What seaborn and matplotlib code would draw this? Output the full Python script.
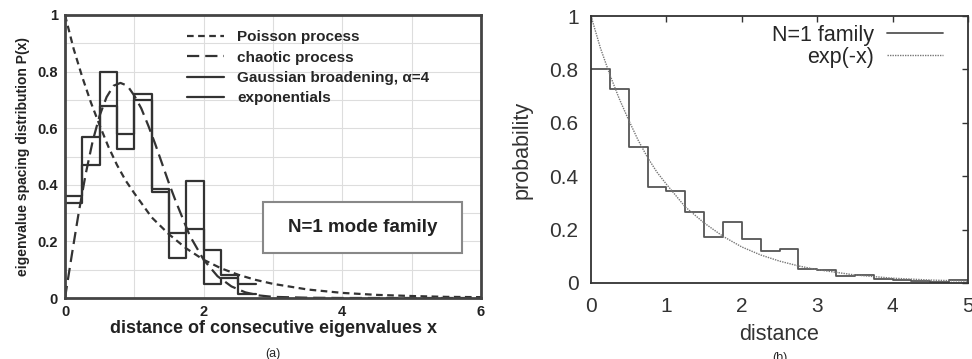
import numpy as np
import pandas as pd
import matplotlib
matplotlib.use("Agg")
import matplotlib.pyplot as plt
from matplotlib.patches import Rectangle
import seaborn as sns

# ---- data ----
# panel (a): bins of width 0.25
bin_edges_a = [0, 0.25, 0.5, 0.75, 1.0, 1.25, 1.5, 1.75, 2.0, 2.25, 2.5, 2.75]
gauss_vals = [0.36, 0.57, 0.80, 0.58, 0.72, 0.385, 0.23, 0.415, 0.17, 0.08, 0.05]
expo_vals = [0.335, 0.47, 0.68, 0.525, 0.70, 0.375, 0.14, 0.245, 0.05, 0.07, 0.015]

poisson_x = [0, 0.125, 0.25, 0.375, 0.5, 0.625, 0.75, 0.875, 1.0, 1.25, 1.5, 1.75, 2.0, 2.25, 2.5, 2.75, 3.0, 3.5, 4.0, 4.5, 5.0, 5.5, 6.0]
poisson_y = [1.0, 0.88, 0.78, 0.69, 0.61, 0.535, 0.47, 0.415, 0.37, 0.285, 0.225, 0.175, 0.135, 0.105, 0.082, 0.064, 0.05, 0.03, 0.018, 0.011, 0.007, 0.004, 0.003]

chaotic_x = [0, 0.1, 0.2, 0.3, 0.4, 0.5, 0.6, 0.7, 0.8, 0.9, 1.0, 1.1, 1.2, 1.3, 1.4, 1.5, 1.6, 1.8, 2.0, 2.2, 2.4, 2.6, 2.8, 3.0, 3.5, 4.0, 6.0]
chaotic_y = [0, 0.155, 0.305, 0.44, 0.555, 0.645, 0.71, 0.75, 0.76, 0.75, 0.715, 0.67, 0.61, 0.545, 0.475, 0.405, 0.34, 0.22, 0.135, 0.077, 0.041, 0.02, 0.009, 0.004, 0.001, 0, 0]

# panel (b)
bin_edges_b = [0, 0.25, 0.5, 0.75, 1.0, 1.25, 1.5, 1.75, 2.0, 2.25, 2.5, 2.75, 3.0, 3.25, 3.5, 3.75, 4.0, 4.25, 4.5, 4.75, 5.0]
family_vals = [0.80, 0.725, 0.51, 0.36, 0.345, 0.265, 0.172, 0.227, 0.166, 0.12, 0.129, 0.054, 0.047, 0.025, 0.029, 0.016, 0.01, 0.006, 0.004, 0.012]

expx_x = [0, 0.125, 0.25, 0.375, 0.5, 0.625, 0.75, 0.875, 1.0, 1.25, 1.5, 1.75, 2.0, 2.25, 2.5, 2.75, 3.0, 3.5, 4.0, 4.5, 5.0]
expx_y = [1.0, 0.88, 0.78, 0.69, 0.61, 0.535, 0.47, 0.415, 0.37, 0.285, 0.225, 0.175, 0.135, 0.105, 0.082, 0.064, 0.05, 0.03, 0.018, 0.011, 0.007]

sns.set_theme(style="white")
plt.rcParams["font.family"] = ["Liberation Sans", "DejaVu Sans"]

fig = plt.figure(figsize=(9.72, 3.59), dpi=100)
ax1 = fig.add_axes([65 / 972, 1 - 298 / 359, 416 / 972, 283 / 359])
ax2 = fig.add_axes([591 / 972, 1 - 283 / 359, 377 / 972, 267 / 359])

dark = "#333333"

def centers(edges):
    return [(edges[i] + edges[i + 1]) / 2 for i in range(len(edges) - 1)]

# ---------- panel (a) ----------
sns.lineplot(x=poisson_x, y=poisson_y, ax=ax1, color=dark, lw=1.6,
             linestyle=(0, (3, 2)), label="Poisson process")
sns.lineplot(x=chaotic_x, y=chaotic_y, ax=ax1, color=dark, lw=1.6,
             linestyle=(0, (5.5, 2.7)), label="chaotic process")
sns.histplot(x=centers(bin_edges_a), weights=gauss_vals, bins=bin_edges_a, element="step",
             fill=False, ax=ax1, color=dark, lw=1.6, label="Gaussian broadening, α=4")
sns.histplot(x=centers(bin_edges_a), weights=expo_vals, bins=bin_edges_a, element="step",
             fill=False, ax=ax1, color=dark, lw=1.6, label="exponentials")

ax1.set_xlim(0, 6)
ax1.set_ylim(0, 1)
ax1.set_xticks([0, 2, 4, 6])
ax1.set_xticklabels(["0", "2", "4", "6"])
ax1.set_yticks([0, 0.2, 0.4, 0.6, 0.8, 1])
ax1.set_yticklabels(["0", "0.2", "0.4", "0.6", "0.8", "1"])
ax1.set_xticks(np.arange(0, 6.01, 1), minor=True)
ax1.set_yticks(np.arange(0, 1.01, 0.1), minor=True)
ax1.grid(which="both", color="#dddddd", lw=0.8)
ax1.tick_params(axis="both", which="both", length=0, labelsize=10.5, pad=5, colors="#222222")
for lab in ax1.get_xticklabels() + ax1.get_yticklabels():
    lab.set_fontweight("bold")
for sp in ax1.spines.values():
    sp.set_color("#444444")
    sp.set_linewidth(2)
ax1.set_xlabel("distance of consecutive eigenvalues x", fontsize=13, fontweight="bold",
               color="#222222", labelpad=1)
ax1.set_ylabel("eigenvalue spacing distribution P(x)", fontsize=10, fontweight="bold",
               color="#222222", labelpad=5)
ax1.text(0.5, -0.175, "(a)", transform=ax1.transAxes, ha="center", va="top", fontsize=9)

ax1.legend(loc="upper left", bbox_to_anchor=(0.26, 0.995), frameon=False,
           prop={"weight": "bold", "size": 11}, handlelength=2.4,
           labelspacing=0.42, handletextpad=0.9)

ax1.add_patch(Rectangle((2.86, 0.16), 2.87, 0.18, fc="white", ec="#888888", lw=1.5, zorder=3))
ax1.text(4.29, 0.25, "N=1 mode family", ha="center", va="center", fontsize=13.5,
         fontweight="bold", color="#222222", zorder=4)

# ---------- panel (b) ----------
sns.histplot(x=centers(bin_edges_b), weights=family_vals, bins=bin_edges_b, element="step",
             fill=False, ax=ax2, color="#555555", lw=1.3, label="N=1 family")
sns.lineplot(x=expx_x, y=expx_y, ax=ax2, color="#777777", lw=1.0,
             linestyle=(0, (1, 0.8)), label="exp(-x)")
ax2.set_xlim(0, 5)
ax2.set_ylim(0, 1)
ax2.set_xticks([0, 1, 2, 3, 4, 5])
ax2.set_xticklabels(["0", "1", "2", "3", "4", "5"])
ax2.set_yticks([0, 0.2, 0.4, 0.6, 0.8, 1])
ax2.set_yticklabels(["0", "0.2", "0.4", "0.6", "0.8", "1"])
ax2.tick_params(axis="both", direction="in", length=4, width=1, labelsize=15, pad=9,
                top=True, right=True, colors="#333333")
ax2.tick_params(axis="x", pad=10)
for sp in ax2.spines.values():
    sp.set_color("#333333")
    sp.set_linewidth(1.3)
ax2.set_xlabel("distance", fontsize=15.5, color="#333333", labelpad=6)
ax2.set_ylabel("probability", fontsize=15.5, color="#333333", labelpad=12)
ax2.text(0.5, -0.26, "(b)", transform=ax2.transAxes, ha="center", va="top", fontsize=9)
ax2.legend(loc="upper right", bbox_to_anchor=(0.985, 1.04), frameon=False, markerfirst=False,
           prop={"size": 15.5}, handlelength=2.6, labelspacing=0.05, handletextpad=0.6)

fig.savefig("out.png", dpi=100)
